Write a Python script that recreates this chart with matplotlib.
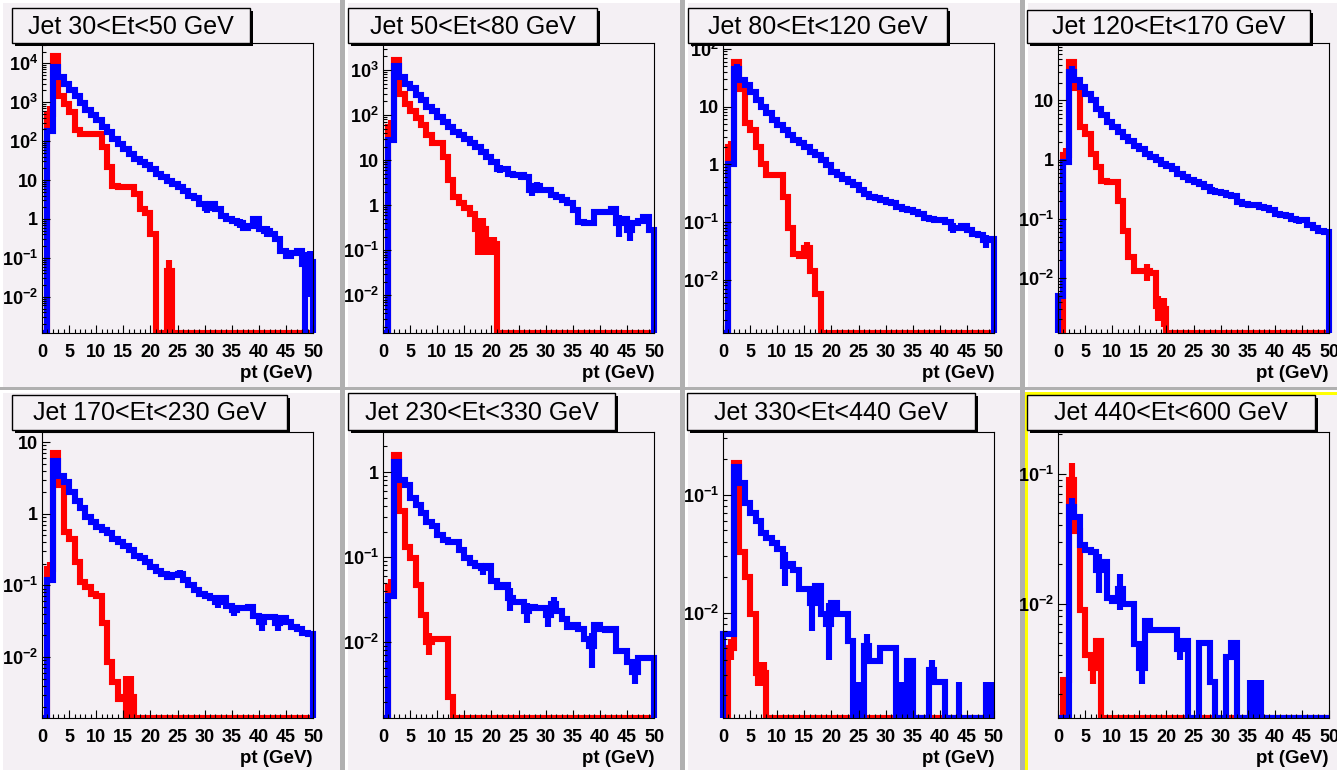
import numpy as np
import matplotlib
matplotlib.use('Agg')
import matplotlib.pyplot as plt
from matplotlib.patches import Rectangle
from matplotlib.ticker import LogLocator, MultipleLocator, NullFormatter
from matplotlib.transforms import Bbox, TransformedBbox

plt.rcParams['font.family'] = 'Liberation Sans'
plt.rcParams['mathtext.fontset'] = 'custom'
plt.rcParams['mathtext.rm'] = 'Liberation Sans:bold'
plt.rcParams['mathtext.it'] = 'Liberation Sans:bold'
plt.rcParams['mathtext.bf'] = 'Liberation Sans:bold'

# ---- data (1 GeV bins, 0..50 GeV) ----
titles = ["Jet 30<Et<50 GeV", "Jet 50<Et<80 GeV", "Jet 80<Et<120 GeV", "Jet 120<Et<170 GeV",
          "Jet 170<Et<230 GeV", "Jet 230<Et<330 GeV", "Jet 330<Et<440 GeV", "Jet 440<Et<600 GeV"]
pt_edges = np.arange(0, 51, 1)

red_1 = [0, 500, 15000, 1400, 900, 560, 190, 155, 155, 155, 155, 70, 21, 7, 6.5, 6.5, 6.5, 4.4, 1.8, 1.4,
         0.4, 0, 0, 0.045] + [0] * 26
blue_1 = [0, 180, 8000, 4500, 3000, 2100, 1400, 930, 620, 460, 340, 230, 170, 115, 85, 63, 47, 35, 29, 24,
          19, 14, 12, 9.6, 7.9, 6.5, 5.3, 3.9, 3.4, 2.4, 1.95, 2.4, 1.8, 1.2, 1.0, 0.9, 0.8, 0.6, 0.65, 1.0,
          0.55, 0.5, 0.4, 0.3, 0.15, 0.11, 0.13, 0.15, 0.07, 0.08]
red_err_1 = {1: 300, 23: 0.045}
blue_err_1 = {30: 0.5, 36: 0.2, 41: 0.15, 48: 0.07, 49: 0.07}

red_2 = [0, 55, 1700, 300, 180, 120, 84, 60, 36, 24, 24, 12, 3.6, 1.5, 1.1, 0.85, 0.65, 0.3, 0.3, 0.14,
         0.14] + [0] * 29
blue_2 = [0, 28, 1200, 710, 500, 390, 280, 215, 150, 120, 92, 71, 55, 43, 36, 30, 24, 20, 15, 12,
          9, 6.5, 6.5, 5, 4.6, 4.6, 4.3, 2.2, 2.6, 2.2, 2.2, 1.7, 1.5, 1.3, 1.1, 0.78, 0.43, 0.4, 0.4, 0.72,
          0.72, 0.72, 0.8, 0.4, 0.5, 0.28, 0.4, 0.45, 0.55, 0.28]
red_err_2 = {1: 22, 17: 0.22, 18: 0.22, 19: 0.06, 20: 0.06}
blue_err_2 = {21: 1.3, 25: 0.9, 27: 0.6, 28: 0.6, 43: 0.2, 45: 0.12}

red_3 = [0, 2.0, 60, 20, 5.1, 3.9, 2.0, 1.0, 0.65, 0.65, 0.65, 0.27, 0.08, 0.028, 0.026, 0.035, 0.014,
         0.0056] + [0] * 32
blue_3 = [0, 1.0, 44, 29, 24, 18, 13, 10, 7.6, 5.9, 4.8, 3.9, 3.2, 2.6, 2.3, 2.0, 1.65, 1.45, 1.2, 0.97,
          0.74, 0.65, 0.56, 0.50, 0.44, 0.36, 0.31, 0.27, 0.26, 0.24, 0.22, 0.21, 0.18, 0.17, 0.16, 0.15,
          0.14, 0.12, 0.115, 0.11, 0.107, 0.10, 0.08, 0.08, 0.086, 0.072, 0.063, 0.06, 0.048, 0.05]
red_err_3 = {1: 0.5, 15: 0.01}
blue_err_3 = {2: 10, 42: 0.015, 48: 0.012}

red_4 = [0, 1.2, 45, 16, 3.5, 2.7, 1.25, 0.74, 0.44, 0.42, 0.42, 0.20, 0.063, 0.023, 0.013, 0.013, 0.013,
         0.012, 0.0034, 0.003] + [0] * 30
blue_4 = [0.005, 0.9, 30, 22, 17, 13, 10, 7.2, 5.6, 4.3, 3.5, 2.9, 2.4, 2.1, 1.7, 1.5, 1.25, 1.1, 1.0, 0.85,
          0.78, 0.7, 0.57, 0.5, 0.46, 0.42, 0.39, 0.34, 0.3, 0.28, 0.27, 0.25, 0.24, 0.19, 0.18, 0.17, 0.17,
          0.16, 0.15, 0.14, 0.12, 0.115, 0.11, 0.1, 0.095, 0.095, 0.08, 0.07, 0.063, 0.06]
red_err_4 = {1: 0.4, 16: 0.004, 18: 0.0015, 19: 0.0015}
blue_err_4 = {2: 8, 28: 0.04, 44: 0.012}

red_5 = [0, 0.17, 7, 2.5, 0.55, 0.45, 0.21, 0.11, 0.095, 0.075, 0.07, 0.03, 0.0085, 0.0045, 0.0026,
         0.0028, 0.0028] + [0] * 33
blue_5 = [0, 0.12, 5.5, 3.4, 2.8, 2.0, 1.5, 1.2, 0.9, 0.76, 0.65, 0.59, 0.53, 0.45, 0.4, 0.36, 0.31, 0.26,
          0.24, 0.21, 0.18, 0.16, 0.145, 0.13, 0.14, 0.145, 0.118, 0.1, 0.086, 0.076, 0.072, 0.066, 0.059,
          0.066, 0.052, 0.045, 0.048, 0.048, 0.05, 0.038, 0.031, 0.036, 0.036, 0.03, 0.035, 0.031, 0.026,
          0.025, 0.022, 0.021]
red_err_5 = {1: 0.04, 15: 0.0027, 16: 0.0027}
blue_err_5 = {25: 0.02, 32: 0.01, 35: 0.008, 40: 0.008, 43: 0.007}

red_6 = [0, 0.045, 1.6, 0.35, 0.13, 0.097, 0.047, 0.021, 0.01, 0.011, 0.011, 0.011, 0.0023] + [0] * 37
blue_6 = [0, 0.035, 1.3, 0.8, 0.71, 0.5, 0.41, 0.33, 0.26, 0.23, 0.18, 0.16, 0.15, 0.15, 0.12, 0.097,
          0.085, 0.078, 0.074, 0.078, 0.052, 0.045, 0.047, 0.033, 0.03, 0.03, 0.023, 0.026, 0.025, 0.025,
          0.021, 0.028, 0.023, 0.019, 0.015, 0.016, 0.0145, 0.011, 0.009, 0.016, 0.0145, 0.014, 0.0145,
          0.0078, 0.0078, 0.0059, 0.0045, 0.0065, 0.0065, 0.0065]
red_err_6 = {1: 0.01, 8: 0.003}
blue_err_6 = {18: 0.012, 23: 0.01, 26: 0.006, 30: 0.006, 31: 0.006, 38: 0.004, 46: 0.0013}

red_7 = [0, 0.005, 0.185, 0.033, 0.02, 0.0097, 0.0031, 0.0031] + [0] * 42
blue_7 = [0.0066, 0.0066, 0.17, 0.125, 0.085, 0.07, 0.06, 0.047, 0.043, 0.039, 0.035, 0.025, 0.026, 0.023,
          0.016, 0.016, 0.012, 0.017, 0.0097, 0.008, 0.012, 0.0097, 0.0097, 0.0058, 0.0013, 0.0013, 0.0052,
          0.0039, 0.0039, 0.005, 0.005, 0.005, 0.0013, 0.0013, 0.0039, 0, 0, 0, 0.0033, 0.0026, 0.0026, 0, 0,
          0.0013, 0, 0, 0, 0, 0.0013, 0.0013]
red_err_7 = {1: 0.001, 6: 0.0007, 7: 0.0007}
blue_err_7 = {11: 0.008, 16: 0.005, 19: 0.004, 24: 0.0013, 25: 0.0013, 26: 0.0014, 32: 0.0013,
              33: 0.0013, 38: 0.0007, 43: 0.0013, 48: 0.0013, 49: 0.0013}

red_8 = [0, 0.0026, 0.09, 0.036, 0.0089, 0.004, 0.0032, 0.0052] + [0] * 42
blue_8 = [0, 0, 0.055, 0.046, 0.028, 0.026, 0.025, 0.018, 0.021, 0.011, 0.0105, 0.013, 0.01, 0.01, 0.0049,
          0.0032, 0.0074, 0.0063, 0.0063, 0.0063, 0.0063, 0.0063, 0.0045, 0.0052, 0, 0, 0.005, 0.005,
          0.0025, 0, 0, 0.0039, 0.005, 0, 0, 0.0013, 0.0013, 0.0013] + [0] * 12
red_err_8 = {2: 0.03, 6: 0.0008}
blue_err_8 = {2: 0.01, 7: 0.006, 11: 0.004, 15: 0.0008, 22: 0.0008, 35: 0.0013, 36: 0.0013, 37: 0.0013}

reds = [red_1, red_2, red_3, red_4, red_5, red_6, red_7, red_8]
blues = [blue_1, blue_2, blue_3, blue_4, blue_5, blue_6, blue_7, blue_8]
red_errs = [red_err_1, red_err_2, red_err_3, red_err_4, red_err_5, red_err_6, red_err_7, red_err_8]
blue_errs = [blue_err_1, blue_err_2, blue_err_3, blue_err_4, blue_err_5, blue_err_6, blue_err_7, blue_err_8]

# log10 y ranges of each frame
y_log_ranges = [(-2.93, 4.52), (-2.84, 3.60), (-2.92, 2.10), (-2.93, 1.97),
                (-2.85, 1.14), (-2.89, 0.47), (-2.89, -0.47), (-2.88, -0.68)]

# ---- layout (pixels) ----
W, H = 1337, 770
PAD_COLOR = '#f4f0f4'
LW = 4.4
col_x = [42, 383, 723, 1058]
row_y = [(43, 333), (432, 718)]
frame_w = 271
title_boxes = [(12, 8, 250, 43), (348, 8, 597, 43), (688, 8, 947, 43), (1027, 10, 1310, 43),
               (12, 395, 287, 430), (348, 393, 615, 430), (687, 393, 975, 430), (1027, 395, 1315, 430)]

fig = plt.figure(figsize=(W / 100, H / 100), dpi=100, facecolor=PAD_COLOR)

# pad borders
bg = fig.add_axes([0, 0, 1, 1], zorder=-1)
bg.set_xlim(0, W)
bg.set_ylim(H, 0)
bg.axis('off')
pad_cols = [(0, 345), (345, 685), (685, 1025), (1025, 1365)]
pad_rows = [(0, 390), (390, 775)]
for (y0, y1) in pad_rows:
    for (x0, x1) in pad_cols:
        bg.add_patch(Rectangle((x0, y0), x1 - x0, 3, color='white', lw=0))
        bg.add_patch(Rectangle((x0, y0), 3, y1 - y0, color='white', lw=0))
        bg.add_patch(Rectangle((x1 - 5, y0), 5, y1 - y0, color='#b0b0b0', lw=0))
        bg.add_patch(Rectangle((x0, y1 - 3), x1 - x0, 3, color='#b0b0b0', lw=0))
bg.add_patch(Rectangle((1025, 392), 3, 400, color='#ffff00', lw=0))
bg.add_patch(Rectangle((1025, 392), 400, 3, color='#ffff00', lw=0))


def y_label(k):
    if k == 0:
        return '1'
    if k == 1:
        return '10'
    return '10$^{%d}$' % k


def draw_hist(ax, vals, errs, color, floor):
    v = np.asarray(vals, dtype=float)
    shown = np.where(v > 0, v, floor)
    clip = TransformedBbox(Bbox([[-0.02, 0.0], [1.02, 1.0]]), ax.transAxes)
    st = ax.stairs(shown, pt_edges, baseline=floor, color=color, linewidth=LW, zorder=2)
    st.set_joinstyle('miter')
    st.set_clip_path(None)
    st.set_clip_box(clip)
    if errs:
        idx = np.array(list(errs.keys()))
        e = np.array(list(errs.values()))
        centers = pt_edges[idx] + 0.5
        lo = np.maximum(v[idx] - e, floor)
        hi = v[idx] + e
        lc = ax.vlines(centers, lo, hi, colors=color, linewidth=LW, zorder=2)
        lc.set_capstyle('butt')
        lc.set_clip_path(None)
        lc.set_clip_box(clip)


for i in range(8):
    r, c = divmod(i, 4)
    top, bottom = row_y[r]
    ax = fig.add_axes([col_x[c] / W, 1 - bottom / H, frame_w / W, (bottom - top) / H])
    ax.set_facecolor(PAD_COLOR)
    lo, hi = y_log_ranges[i]
    floor = 10 ** lo
    ax.set_yscale('log')
    ax.set_xlim(0, 50)
    ax.set_ylim(floor, 10 ** hi)

    draw_hist(ax, reds[i], red_errs[i], '#ff0000', floor)
    draw_hist(ax, blues[i], blue_errs[i], '#0000ff', floor)

    ax.set_axisbelow(False)
    for s in ax.spines.values():
        s.set_linewidth(0.8)
        s.set_color('black')

    ax.set_xticks(np.arange(0, 51, 5))
    ax.set_xticklabels([str(t) for t in range(0, 51, 5)], fontweight='bold', fontsize=13)
    ax.xaxis.set_minor_locator(MultipleLocator(1))
    ks = np.arange(int(np.ceil(lo)), int(np.floor(hi)) + 1)
    ax.set_yticks(10.0 ** ks)
    ax.set_yticklabels([y_label(k) for k in ks], fontweight='bold', fontsize=13)
    ax.yaxis.set_minor_locator(LogLocator(base=10, subs=np.arange(2, 10), numticks=100))
    ax.yaxis.set_minor_formatter(NullFormatter())
    ax.tick_params(which='both', direction='in', top=False, right=False, width=0.8, color='black')
    ax.tick_params(which='major', length=6)
    ax.tick_params(which='minor', length=3)
    ax.tick_params(axis='x', which='major', pad=8)
    ax.tick_params(axis='y', which='major', pad=3)

    ax.annotate('pt (GeV)', xy=(1, 0), xycoords='axes fraction', xytext=(0, -29),
                textcoords='offset points', ha='right', va='center', fontweight='bold', fontsize=13.5)

# title boxes on top
ov = fig.add_axes([0, 0, 1, 1], zorder=10)
ov.set_xlim(0, W)
ov.set_ylim(H, 0)
ov.axis('off')
for i, (x0, y0, x1, y1) in enumerate(title_boxes):
    ov.add_patch(Rectangle((x0 + 3, y0 + 3), x1 - x0, y1 - y0, facecolor='black', lw=0))
    ov.add_patch(Rectangle((x0, y0), x1 - x0, y1 - y0, facecolor=PAD_COLOR, edgecolor='black', lw=1))
    ov.text((x0 + x1) / 2, (y0 + y1) / 2 + 1, titles[i], ha='center', va='center', fontsize=18)

fig.savefig('out.png', dpi=100, facecolor=PAD_COLOR)
